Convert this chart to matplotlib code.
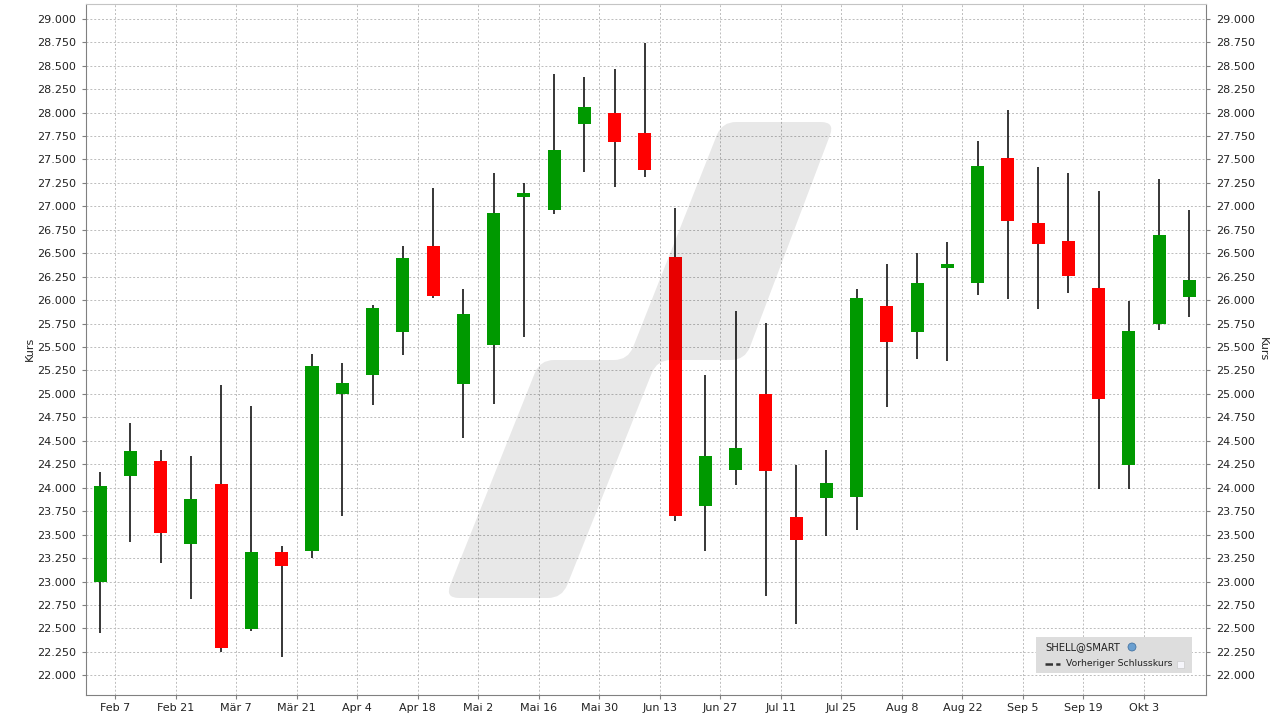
import numpy as np
import matplotlib
matplotlib.use("Agg")
import matplotlib.pyplot as plt
from matplotlib.path import Path
from matplotlib.patches import PathPatch, Rectangle, Ellipse
from matplotlib.lines import Line2D

plt.rcParams['font.family'] = ['DejaVu Sans']

# Wochenkerzen SHELL (Feb - Okt)
eroeffnung = [23.00, 24.12, 24.28, 23.40, 24.04, 22.49, 23.31, 23.32, 25.00, 25.20,
              25.66, 26.58, 25.11, 25.52, 27.10, 26.96, 27.88, 28.00, 27.78, 26.46,
              23.81, 24.19, 25.00, 23.69, 23.89, 23.90, 25.94, 25.66, 26.34, 26.18,
              27.51, 26.82, 26.63, 26.13, 24.245, 25.745, 26.03]
schluss = [24.02, 24.39, 23.52, 23.88, 22.29, 23.31, 23.16, 25.30, 25.115, 25.92,
           26.45, 26.04, 25.85, 26.93, 27.14, 27.60, 28.06, 27.69, 27.39, 23.70,
           24.34, 24.42, 24.18, 23.445, 24.05, 26.02, 25.55, 26.18, 26.38, 27.43,
           26.84, 26.60, 26.26, 24.95, 25.67, 26.69, 26.21]
hoch = [24.17, 24.69, 24.40, 24.34, 25.09, 24.87, 23.38, 25.43, 25.33, 25.95,
        26.58, 27.20, 26.115, 27.35, 27.25, 28.41, 28.38, 28.46, 28.74, 26.98,
        25.20, 25.88, 25.76, 24.245, 24.40, 26.115, 26.38, 26.50, 26.62, 27.70,
        28.03, 27.42, 27.35, 27.16, 25.99, 27.29, 26.96]
tief = [22.45, 23.42, 23.20, 22.81, 22.25, 22.47, 22.20, 23.25, 23.70, 24.88,
        25.41, 26.02, 24.53, 24.89, 25.61, 26.92, 27.37, 27.21, 27.31, 23.64,
        23.32, 24.03, 22.85, 22.55, 23.48, 23.55, 24.86, 25.37, 25.35, 26.05,
        26.01, 25.905, 26.08, 23.99, 23.99, 25.68, 25.82]
x_labels = ["Feb 7", "Feb 21", "Mär 7", "Mär 21", "Apr 4", "Apr 18", "Mai 2",
            "Mai 16", "Mai 30", "Jun 13", "Jun 27", "Jul 11", "Jul 25", "Aug 8",
            "Aug 22", "Sep 5", "Sep 19", "Okt 3"]

W, H = 1280, 721
fig = plt.figure(figsize=(W / 100, H / 100), dpi=100)
ax = fig.add_axes([86 / W, 1 - 695 / H, 1120 / W, 691.3 / H])

x = np.arange(len(eroeffnung))
o = np.array(eroeffnung)
c = np.array(schluss)
farben = np.where(c >= o, "#009900", "#ff0000")

ax.vlines(x, tief, hoch, color="black", linewidth=1.1, zorder=2)
ax.bar(x, c - o, bottom=o, width=0.43, color=farben, linewidth=0, zorder=2.5)

ax.set_xlim(-0.47, 36.55)
ax.set_ylim(21.79, 29.16)
yt = np.arange(22.0, 29.001, 0.25)
ax.set_yticks(yt)
ax.set_yticklabels([f"{v:.3f}" for v in yt])
ax.set_xticks(np.arange(len(x_labels)) * 2 + 0.5)
ax.set_xticklabels(x_labels)

ax.set_axisbelow(True)
ax.grid(True, color="#bcbcbc", linestyle=(0, (2, 2)), linewidth=0.7)
ax.tick_params(axis="both", colors="#808080", labelcolor="#222222",
               labelsize=8, length=3, width=0.8, pad=3)
ax.tick_params(axis="y", right=True, labelright=True, pad=4)
for s in ["left", "bottom", "right"]:
    ax.spines[s].set_color("#808080")
ax.spines["top"].set_color("#c4c4c4")

ax.text(-56 / 1120, 0.5, "Kurs", transform=ax.transAxes, rotation=90,
        ha="center", va="center", fontsize=8, color="#222222")
ax.text(1.0 + 57 / 1120, 0.5, "Kurs", transform=ax.transAxes, rotation=270,
        ha="center", va="center", fontsize=8, color="#222222")


# Wasserzeichen (abgerundetes Polygon, halbtransparent)
def runde_ecken(pts, r):
    verts, codes = [], []
    n = len(pts)
    for i in range(n):
        p0 = np.array(pts[i - 1], float)
        p1 = np.array(pts[i], float)
        p2 = np.array(pts[(i + 1) % n], float)
        d1 = (p0 - p1) / np.linalg.norm(p0 - p1)
        d2 = (p2 - p1) / np.linalg.norm(p2 - p1)
        rr = min(r, np.linalg.norm(p0 - p1) / 2, np.linalg.norm(p2 - p1) / 2)
        a = p1 + d1 * rr
        b = p1 + d2 * rr
        verts += [a, p1, b]
        codes += [Path.MOVETO if i == 0 else Path.LINETO, Path.CURVE3, Path.CURVE3]
    verts.append(verts[0])
    codes.append(Path.CLOSEPOLY)
    return verts, codes


wm_px = [(445, 598), (540, 360), (628, 360), (722, 122), (835, 122),
         (745, 360), (657, 360), (562, 598)]
vv, cc = runde_ecken([(px - 86, 695 - py) for px, py in wm_px], 14)
vv = [(v[0] / 1120, v[1] / 691.3) for v in vv]
ax.add_patch(PathPatch(Path(vv, cc), facecolor="black", alpha=0.09,
                       edgecolor="none", transform=ax.transAxes, zorder=3))


def fp(px, py):
    return px / W, 1 - py / H


# Legende
fig.add_artist(Rectangle(fp(1036, 673), 156 / W, 36 / H, transform=fig.transFigure,
                         facecolor="#dddddd", edgecolor="none", zorder=5))
fig.text(*fp(1045, 647), "SHELL@SMART", fontsize=7.2, color="#222222",
         ha="left", va="center", zorder=6)
fig.add_artist(Ellipse(fp(1132, 647), 8 / W, 8 / H, transform=fig.transFigure,
                       facecolor="#6a9fd0", edgecolor="#3a6a9a", lw=0.5, zorder=6))
fig.add_artist(Line2D([1045 / W, 1060 / W], [1 - 664 / H, 1 - 664 / H],
                      transform=fig.transFigure, color="#333333", lw=1.8,
                      linestyle=(0, (3, 1.3)), zorder=6))
fig.text(*fp(1066, 664), "Vorheriger Schlusskurs", fontsize=6.7, color="#222222",
         ha="left", va="center", zorder=6)
fig.add_artist(Rectangle(fp(1177, 668), 7 / W, 7 / H, transform=fig.transFigure,
                         facecolor="#f6f6fb", edgecolor="#cccccc", lw=0.5, zorder=6))

fig.savefig("out.png", dpi=100)
